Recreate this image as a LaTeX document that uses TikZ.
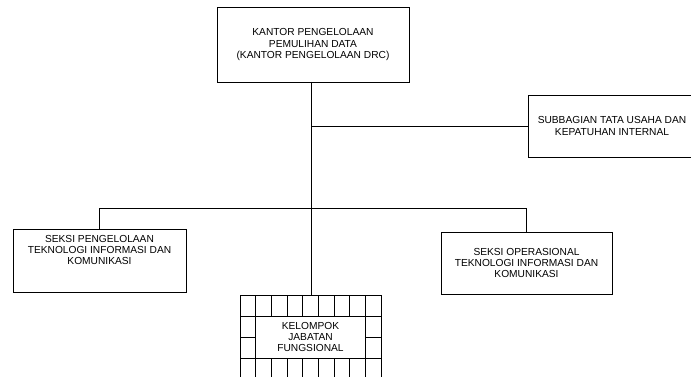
\documentclass[tikz,border=0pt]{standalone}
\usepackage{fontspec}
\setmainfont{Liberation Sans}
\usetikzlibrary{positioning}

\begin{document}
\begin{tikzpicture}[x=1pt, y=-1pt,
  box/.style={rectangle, draw, fill=white, line width=0.8pt, inner sep=0pt, align=center, font=\fontsize{10.2}{11.2}\selectfont},
  label/.style={inner sep=0pt, align=center, font=\fontsize{10.2}{11.2}\selectfont},
  line/.style={draw, line width=0.8pt}]
  \useasboundingbox (0,0) rectangle (691,377);
  \clip (0,0) rectangle (691,377);

  \node [box, minimum width=192pt, minimum height=75pt] (kantor) at (313,44.5) {KANTOR PENGELOLAAN\\PEMULIHAN DATA\\(KANTOR PENGELOLAAN DRC)};
  \node [box, minimum width=168pt, minimum height=62pt] (subbag) at (612,126) {SUBBAGIAN TATA USAHA DAN\\KEPATUHAN INTERNAL};
  \node [box, minimum width=173pt, minimum height=63pt] (seksipti) at (99.5,260.5) {};
  \node [label] at (99.5,250) {SEKSI PENGELOLAAN\\TEKNOLOGI INFORMASI DAN\\KOMUNIKASI};
  \node [box, minimum width=171pt, minimum height=62pt] (seksiop) at (526.5,263) {SEKSI OPERASIONAL\\TEKNOLOGI INFORMASI DAN\\KOMUNIKASI};

  % kelompok jabatan fungsional (grid frame)
  \foreach \i in {0,...,9}
    \draw [line width=0.8pt] (240+\i*15.667,295) -- (240+\i*15.667,380);
  \foreach \j in {0,...,4}
    \draw [line width=0.8pt] (240,295+\j*21) -- (381,295+\j*21);
  \node [box, minimum width=109.7pt, minimum height=42pt] (kjf) at (310.5,337) {KELOMPOK\\JABATAN\\FUNGSIONAL};

  \coordinate (top) at (311,82);
  \coordinate (bot) at (311,295);
  \coordinate (jsub) at (311,126);
  \coordinate (jl) at (99,208);
  \coordinate (jr) at (526,208);

  \path [line] (top) -- (bot);
  \path [line] (jsub) -- (jsub -| subbag.west);
  \path [line] (jl) -- (jr);
  \path [line] (jl) -- (jl |- seksipti.north);
  \path [line] (jr) -- (jr |- seksiop.north);
\end{tikzpicture}
\end{document}
